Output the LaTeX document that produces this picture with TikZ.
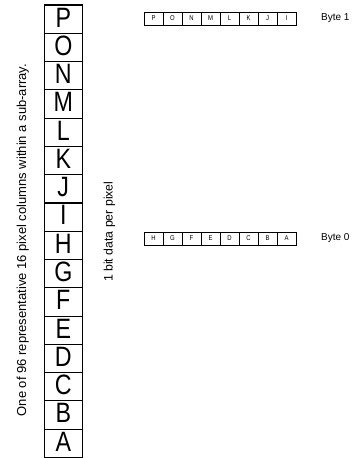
\documentclass[tikz,border=0pt]{standalone}
\usepackage{fontspec}
\setmainfont{Liberation Sans}
\begin{document}
\begin{tikzpicture}[x=1pt,y=-1pt,
  bigcell/.style={draw=black, line width=1.1pt, minimum width=38pt, minimum height=28.28pt,
    text height=22pt, text depth=6.28pt,
    inner sep=0pt, outer sep=0pt, anchor=north west, font=\fontsize{28}{28}\selectfont},
  bitcell/.style={draw=black, line width=0.9pt, minimum width=19pt, minimum height=13pt,
    inner sep=0pt, outer sep=0pt, anchor=north west, font=\fontsize{7}{7}\selectfont},
  sidelabel/.style={rotate=90, anchor=base, inner sep=0pt},
  bytelabel/.style={anchor=west, inner sep=0pt, font=\fontsize{10}{10}\selectfont}]
\useasboundingbox (0,0) rectangle (359,458);
% column of 16 pixels
\foreach \L [count=\i from 0] in {P,O,N,M,L,K,J,I,H,G,F,E,D,C,B,A}
  \node[bigcell] (c\i) at (44.3, {5+\i*28.28}) {\scalebox{0.83}[1]{\L}};
% byte 1
\foreach \L [count=\i from 0] in {P,O,N,M,L,K,J,I}
  \node[bitcell] (u\i) at ({144+\i*19}, 12) {\scalebox{0.85}[1]{\L}};
% byte 0
\foreach \L [count=\i from 0] in {H,G,F,E,D,C,B,A}
  \node[bitcell] (d\i) at ({144+\i*19}, 232) {\scalebox{0.85}[1]{\L}};
\node[bytelabel] (b1) at (321, 18.5) {Byte 1};
\node[bytelabel] (b0) at (321, 238.5) {Byte 0};
\node[sidelabel, font=\fontsize{13}{13}\selectfont] (desc) at (26, 240)
  {One of 96 representative 16 pixel columns within a sub-array.};
\node[sidelabel, font=\fontsize{12.3}{12.3}\selectfont] (bits) at (112.5, 231.7)
  {1 bit data per pixel};
\end{tikzpicture}
\end{document}
